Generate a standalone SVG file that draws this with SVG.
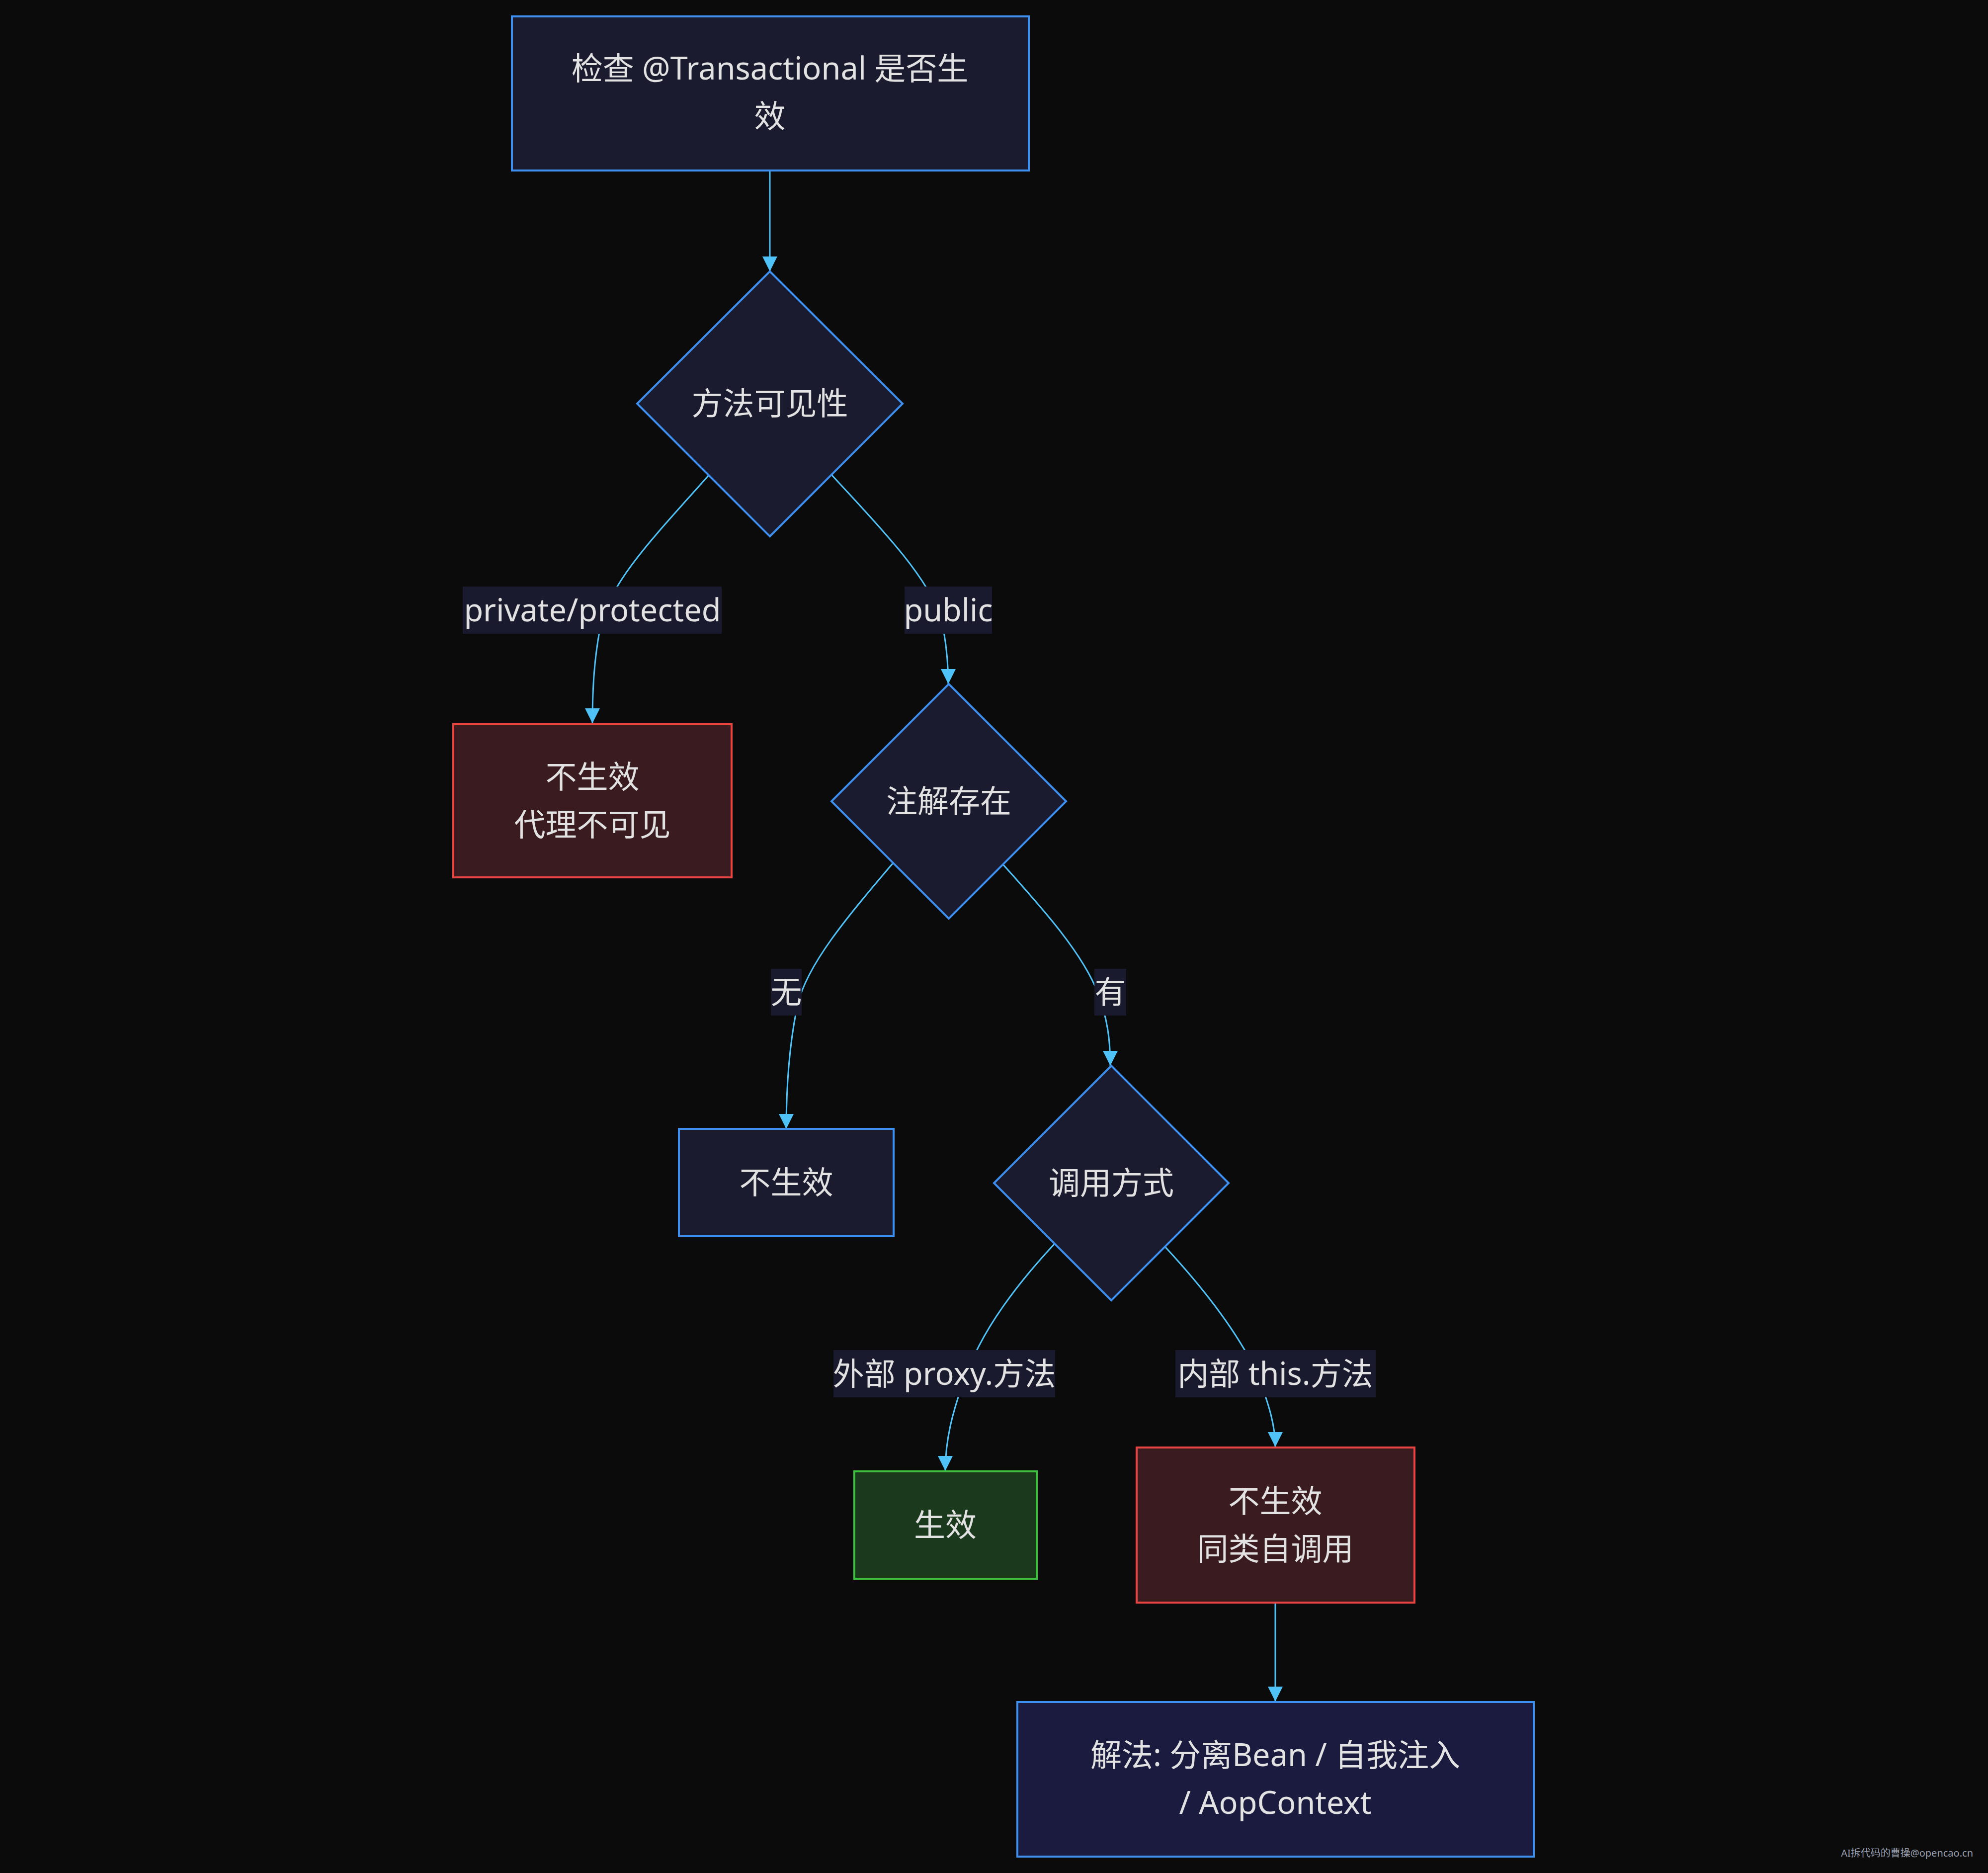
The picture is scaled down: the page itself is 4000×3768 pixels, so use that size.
<svg xmlns="http://www.w3.org/2000/svg" width="4000" height="3768" viewBox="0 0 4000 3768">
<defs>
<style>
.bg{fill:#0b0b0c}
.n{fill:#1a1b2e;stroke:#3d8ff0;stroke-width:4}
.red{fill:#3a1b1f;stroke:#e84444;stroke-width:4}
.green{fill:#1b3a1d;stroke:#3fbf3f;stroke-width:4}
.fin{fill:#1b1b3f;stroke:#3d8ff0;stroke-width:4}
.t{font-family:"Noto Sans","Noto Sans CJK SC",sans-serif;font-size:63px;fill:#e2e2e2;text-anchor:middle;dominant-baseline:central}
.lb{fill:#1a1a2e}
.e{fill:none;stroke:#4fc3f7;stroke-width:3}
.wm{font-family:"Noto Sans","Noto Sans CJK SC",sans-serif;font-size:20px;fill:#9aa0b0;text-anchor:end}
</style>
<marker id="arr" viewBox="0 0 10 10" refX="10" refY="5" markerUnits="userSpaceOnUse" markerWidth="30" markerHeight="30" orient="auto">
<path d="M0,0 L10,5 L0,10 z" fill="#4fc3f7"/>
</marker>
</defs>
<rect class="bg" x="0" y="0" width="4000" height="3768"/>

<g id="edges">
<path class="e" d="M1549,344 L1549,546" marker-end="url(#arr)"/>
<path class="e" d="M1426,956 C1330,1065 1235,1160 1210,1250 C1196,1320 1192,1380 1192,1455" marker-end="url(#arr)"/>
<path class="e" d="M1673,955 C1760,1050 1860,1150 1893,1240 C1904,1290 1908,1330 1908,1376" marker-end="url(#arr)"/>
<path class="e" d="M1797,1736 C1700,1850 1625,1940 1605,2020 C1588,2100 1582,2180 1582,2271" marker-end="url(#arr)"/>
<path class="e" d="M2018,1739 C2100,1830 2180,1920 2210,2000 C2228,2050 2234,2090 2234,2144" marker-end="url(#arr)"/>
<path class="e" d="M2122,2502 C2040,2590 1975,2680 1945,2764 C1915,2840 1902,2900 1902,2959" marker-end="url(#arr)"/>
<path class="e" d="M2344,2508 C2420,2590 2490,2680 2530,2764 C2555,2830 2566,2870 2566,2911" marker-end="url(#arr)"/>
<path class="e" d="M2566,3225 L2566,3423" marker-end="url(#arr)"/>
</g>

<g id="edge-labels">
<g id="lbl-private"><rect class="lb" x="931" y="1180" width="521" height="95"/><text class="t" x="1192" y="1225">private/protected</text></g>
<g id="lbl-public"><rect class="lb" x="1820" y="1180" width="176" height="95"/><text class="t" x="1908" y="1225">public</text></g>
<g id="lbl-none"><rect class="lb" x="1551" y="1949" width="62" height="94"/><text class="t" x="1582" y="1993">无</text></g>
<g id="lbl-has"><rect class="lb" x="2202" y="1949" width="64" height="94"/><text class="t" x="2234" y="1993">有</text></g>
<g id="lbl-proxy"><rect class="lb" x="1677" y="2716" width="446" height="95"/><text class="t" x="1900" y="2761">外部 proxy.方法</text></g>
<g id="lbl-this"><rect class="lb" x="2365" y="2716" width="403" height="95"/><text class="t" x="2566" y="2761">内部 this.方法</text></g>
</g>

<g id="start">
<rect class="n" x="1030" y="33" width="1040" height="310"/>
<text class="t" x="1549" y="135">检查 @Transactional 是否生</text>
<text class="t" x="1549" y="231">效</text>
</g>

<g id="visibility">
<polygon class="n" points="1549,546 1816,812 1549,1079 1282,812"/>
<text class="t" x="1549" y="809">方法可见性</text>
</g>

<g id="invisible">
<rect class="red" x="912" y="1457" width="560" height="308"/>
<text class="t" x="1192" y="1560">不生效</text>
<text class="t" x="1192" y="1656">代理不可见</text>
</g>

<g id="annotation">
<polygon class="n" points="1909,1376 2145,1612 1909,1848 1673,1612"/>
<text class="t" x="1909" y="1609">注解存在</text>
</g>

<g id="noeffect">
<rect class="n" x="1366" y="2271" width="432" height="216"/>
<text class="t" x="1582" y="2376">不生效</text>
</g>

<g id="callmode">
<polygon class="n" points="2236,2144 2472,2380 2236,2616 2000,2380"/>
<text class="t" x="2236" y="2377">调用方式</text>
</g>

<g id="effective">
<rect class="green" x="1719" y="2960" width="367" height="216"/>
<text class="t" x="1902" y="3065">生效</text>
</g>

<g id="selfcall">
<rect class="red" x="2287" y="2912" width="559" height="312"/>
<text class="t" x="2566" y="3017">不生效</text>
<text class="t" x="2566" y="3113">同类自调用</text>
</g>

<g id="solution">
<rect class="fin" x="2047" y="3424" width="1039" height="311"/>
<text class="t" x="2566" y="3528">解法: 分离Bean / 自我注入</text>
<text class="t" x="2566" y="3624">/ AopContext</text>
</g>

<text class="wm" x="3970" y="3735">AI拆代码的曹操@opencao.cn</text>
</svg>
